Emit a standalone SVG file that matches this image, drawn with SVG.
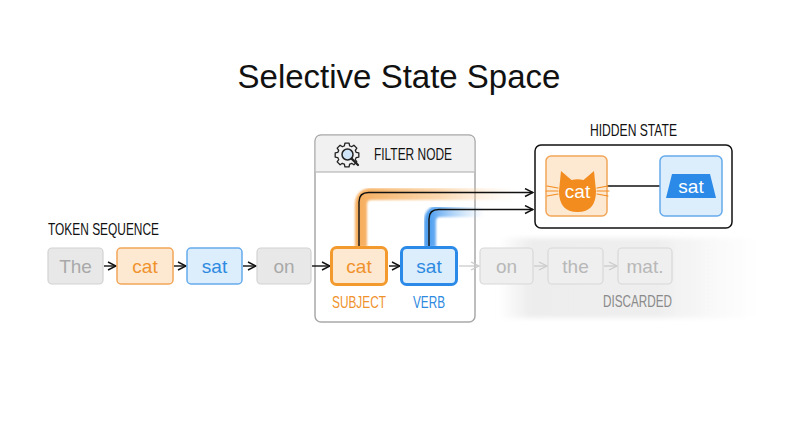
<svg xmlns="http://www.w3.org/2000/svg" width="800" height="447" viewBox="0 0 800 447">
<style>
  .t{font-family:"Liberation Sans",Arial,sans-serif}
  .lbl{font-family:"Liberation Sans",Arial,sans-serif;font-size:16.5px;fill:#111}
  .tok{font-family:"Liberation Sans",Arial,sans-serif;font-size:19px;text-anchor:middle}
  .gray rect{fill:#e8e8e8;stroke:#d2d2d2;stroke-width:1.2}
  .gray text{fill:#a9a9a9}
  .disc rect{fill:#efefef;stroke:#d8d8d8;stroke-width:1.2}
  .disc text{fill:#b8b8b8}
  .org rect{fill:#fde8d2;stroke:#f2a65a;stroke-width:1.5}
  .org text{fill:#f0922c}
  .blu rect{fill:#dcedfc;stroke:#66abec;stroke-width:1.5}
  .blu text{fill:#2d8ae0}
  .ln{fill:none;stroke:#111;stroke-width:1.4}
  .lg{fill:none;stroke:#cbcbcb;stroke-width:1.3}
</style>
<defs>
  <marker id="ah" viewBox="0 0 10 10" refX="9" refY="5" markerWidth="10" markerHeight="10" markerUnits="userSpaceOnUse" orient="auto">
    <path d="M1,1 L9,5 L1,9" fill="none" stroke="#111" stroke-width="1.4"/>
  </marker>
  <marker id="ahg" viewBox="0 0 10 10" refX="9" refY="5" markerWidth="10" markerHeight="10" markerUnits="userSpaceOnUse" orient="auto">
    <path d="M1,1 L9,5 L1,9" fill="none" stroke="#cbcbcb" stroke-width="1.3"/>
  </marker>
  <linearGradient id="gO" gradientUnits="userSpaceOnUse" x1="360" y1="0" x2="515" y2="0">
    <stop offset="0" stop-color="#f5a043" stop-opacity="0.85"/>
    <stop offset="0.5" stop-color="#f7b56a" stop-opacity="0.55"/>
    <stop offset="1" stop-color="#fbd2a4" stop-opacity="0"/>
  </linearGradient>
  <linearGradient id="gB" gradientUnits="userSpaceOnUse" x1="430" y1="0" x2="485" y2="0">
    <stop offset="0" stop-color="#3d95ee" stop-opacity="0.9"/>
    <stop offset="1" stop-color="#a9d0f6" stop-opacity="0"/>
  </linearGradient>
  <linearGradient id="gF" x1="0" y1="0" x2="1" y2="0">
    <stop offset="0" stop-color="#eeeeee" stop-opacity="0"/>
    <stop offset="0.12" stop-color="#ededed" stop-opacity="1"/>
    <stop offset="0.6" stop-color="#eeeeee" stop-opacity="1"/>
    <stop offset="1" stop-color="#f4f4f4" stop-opacity="0"/>
  </linearGradient>
  <filter id="blur" x="-10%" y="-20%" width="120%" height="140%"><feGaussianBlur stdDeviation="2.5"/></filter>
  <filter id="soft" x="-10%" y="-10%" width="120%" height="120%"><feGaussianBlur stdDeviation="1.2"/></filter>
</defs>

<rect width="800" height="447" fill="#ffffff"/>

<text class="t" x="399" y="88" font-size="33" text-anchor="middle" fill="#111">Selective State Space</text>

<!-- discard fade region -->
<rect x="498" y="238" width="264" height="80" fill="url(#gF)" filter="url(#blur)"/>

<!-- filter node -->
<g id="filter-node">
  <rect x="315" y="135" width="160" height="187" rx="6" fill="#ffffff" stroke="#a9a9a9" stroke-width="1.5"/>
  <path d="M315.75,172 V141 Q315.75,135.75 321,135.75 H469 Q474.25,135.75 474.25,141 V172 Z" fill="#f1f1f1"/>
  <line x1="315.75" y1="172" x2="474.25" y2="172" stroke="#a9a9a9" stroke-width="1.2"/>
  <g transform="translate(347,155)">
    <path d="M9.13,-2.62 L11.82,-2.08 L11.82,2.08 L9.13,2.62 A9.5,9.5 0 0 1 8.31,4.61 L9.83,6.88 L6.88,9.83 L4.61,8.31 A9.5,9.5 0 0 1 2.62,9.13 L2.08,11.82 L-2.08,11.82 L-2.62,9.13 A9.5,9.5 0 0 1 -4.61,8.31 L-6.88,9.83 L-9.83,6.88 L-8.31,4.61 A9.5,9.5 0 0 1 -9.13,2.62 L-11.82,2.08 L-11.82,-2.08 L-9.13,-2.62 A9.5,9.5 0 0 1 -8.31,-4.61 L-9.83,-6.88 L-6.88,-9.83 L-4.61,-8.31 A9.5,9.5 0 0 1 -2.62,-9.13 L-2.08,-11.82 L2.08,-11.82 L2.62,-9.13 A9.5,9.5 0 0 1 4.61,-8.31 L6.88,-9.83 L9.83,-6.88 L8.31,-4.61 A9.5,9.5 0 0 1 9.13,-2.62 Z" fill="#f1f1f1" stroke="#222" stroke-width="1.3" stroke-linejoin="round"/>
    <circle cx="0.5" cy="-0.5" r="5.5" fill="#cfe4f6" stroke="#222" stroke-width="1.5"/>
    <line x1="4.6" y1="3.6" x2="11" y2="10" stroke="#222" stroke-width="2.2" stroke-linecap="round"/>
  </g>
  <text class="lbl" x="374" y="160" textLength="78" lengthAdjust="spacingAndGlyphs">FILTER NODE</text>
</g>

<!-- glows -->
<g id="glows">
  <path d="M361,247 V205 Q361,194 372,194 H520" fill="none" stroke="url(#gO)" stroke-width="12" filter="url(#soft)"/>
  <path d="M430,247 V222 Q430,211 441,211 H490" fill="none" stroke="url(#gB)" stroke-width="12" filter="url(#soft)"/>
</g>

<text class="lbl" x="48" y="235" textLength="111" lengthAdjust="spacingAndGlyphs">TOKEN SEQUENCE</text>

<!-- connectors -->
<g id="connectors">
  <line class="ln" x1="104" y1="266" x2="116" y2="266" marker-end="url(#ah)"/>
  <line class="ln" x1="174" y1="266" x2="186" y2="266" marker-end="url(#ah)"/>
  <line class="ln" x1="243" y1="266" x2="256" y2="266" marker-end="url(#ah)"/>
  <line class="ln" x1="312" y1="266" x2="330" y2="266" marker-end="url(#ah)"/>
  <line class="ln" x1="389" y1="266" x2="400" y2="266" marker-end="url(#ah)"/>
  <line class="lg" x1="459" y1="266" x2="479" y2="266" marker-end="url(#ahg)"/>
  <line class="lg" x1="534" y1="266" x2="547" y2="266" marker-end="url(#ahg)"/>
  <line class="lg" x1="604" y1="266" x2="617" y2="266" marker-end="url(#ahg)"/>
  <path class="ln" d="M359,246 V202 Q359,192.5 368.5,192.5 H533" marker-end="url(#ah)"/>
  <path class="ln" d="M429,246 V219 Q429,209.5 438.5,209.5 H533" marker-end="url(#ah)"/>
  <line x1="607" y1="186" x2="660" y2="186" stroke="#111" stroke-width="1.4"/>
</g>

<!-- tokens -->
<g id="tok-the" class="gray"><rect x="48" y="248" width="55" height="36" rx="4"/><text class="tok" x="75.5" y="273">The</text></g>
<g id="tok-cat" class="org"><rect x="117" y="248" width="56" height="36" rx="4"/><text class="tok" x="145" y="273">cat</text></g>
<g id="tok-sat" class="blu"><rect x="187" y="248" width="55" height="36" rx="4"/><text class="tok" x="214.5" y="273">sat</text></g>
<g id="tok-on" class="gray"><rect x="257" y="248" width="54" height="36" rx="4"/><text class="tok" x="284" y="273">on</text></g>

<g id="sel-cat">
  <rect x="331.5" y="247.5" width="55" height="37" rx="5" fill="#fde8d2" stroke="#f39a2e" stroke-width="3"/>
  <text class="tok" x="359" y="273" fill="#f0922c">cat</text>
  <text class="lbl" x="332" y="308" style="fill:#f0922c" textLength="54" lengthAdjust="spacingAndGlyphs">SUBJECT</text>
</g>
<g id="sel-sat">
  <rect x="401.5" y="247.5" width="55" height="37" rx="5" fill="#dcedfc" stroke="#2b8ae8" stroke-width="3"/>
  <text class="tok" x="429" y="273" fill="#2d8ae0">sat</text>
  <text class="lbl" x="413" y="308" style="fill:#2d8ae0" textLength="32" lengthAdjust="spacingAndGlyphs">VERB</text>
</g>

<g id="disc-on" class="disc"><rect x="480" y="248" width="53" height="36" rx="4"/><text class="tok" x="506.5" y="273">on</text></g>
<g id="disc-the" class="disc"><rect x="548" y="248" width="55" height="36" rx="4"/><text class="tok" x="575.5" y="273">the</text></g>
<g id="disc-mat" class="disc"><rect x="618" y="248" width="54" height="36" rx="4"/><text class="tok" x="645" y="273">mat.</text></g>
<text class="lbl" x="603" y="307" style="fill:#8a8a8a" textLength="69" lengthAdjust="spacingAndGlyphs">DISCARDED</text>

<!-- hidden state -->
<g id="hidden-state">
  <text class="lbl" x="590" y="136" textLength="87" lengthAdjust="spacingAndGlyphs">HIDDEN STATE</text>
  <rect x="535" y="145" width="197" height="83" rx="6" fill="none" stroke="#111" stroke-width="1.5"/>
</g>
<g id="hs-cat">
  <rect x="546" y="156" width="61" height="60" rx="5" fill="#fde8d2" stroke="#f2a65a" stroke-width="1.5"/>
  <path d="M561,171 L571.5,180 Q577.5,178.5 583.5,180 L594,171 L596,191 Q596,212 577.5,212 Q559,212 559,191 Z" fill="#f28c1e"/>
  <g stroke="#f28c1e" stroke-width="1.2" stroke-linecap="round">
    <line x1="547" y1="186" x2="558" y2="188"/><line x1="546" y1="191" x2="558" y2="191"/><line x1="547" y1="196" x2="558" y2="194"/>
    <line x1="608" y1="186" x2="597" y2="188"/><line x1="609" y1="191" x2="597" y2="191"/><line x1="608" y1="196" x2="597" y2="194"/>
  </g>
  <text class="tok" x="577.5" y="198" style="fill:#ffffff" font-size="18">cat</text>
</g>
<g id="hs-sat">
  <rect x="660" y="156" width="62" height="60" rx="5" fill="#dcedfc" stroke="#66abec" stroke-width="1.5"/>
  <path d="M672,174 H710 L716,198 H666 Z" fill="#2b8ae8"/>
  <text class="tok" x="691" y="193" style="fill:#ffffff" font-size="18">sat</text>
</g>
</svg>
